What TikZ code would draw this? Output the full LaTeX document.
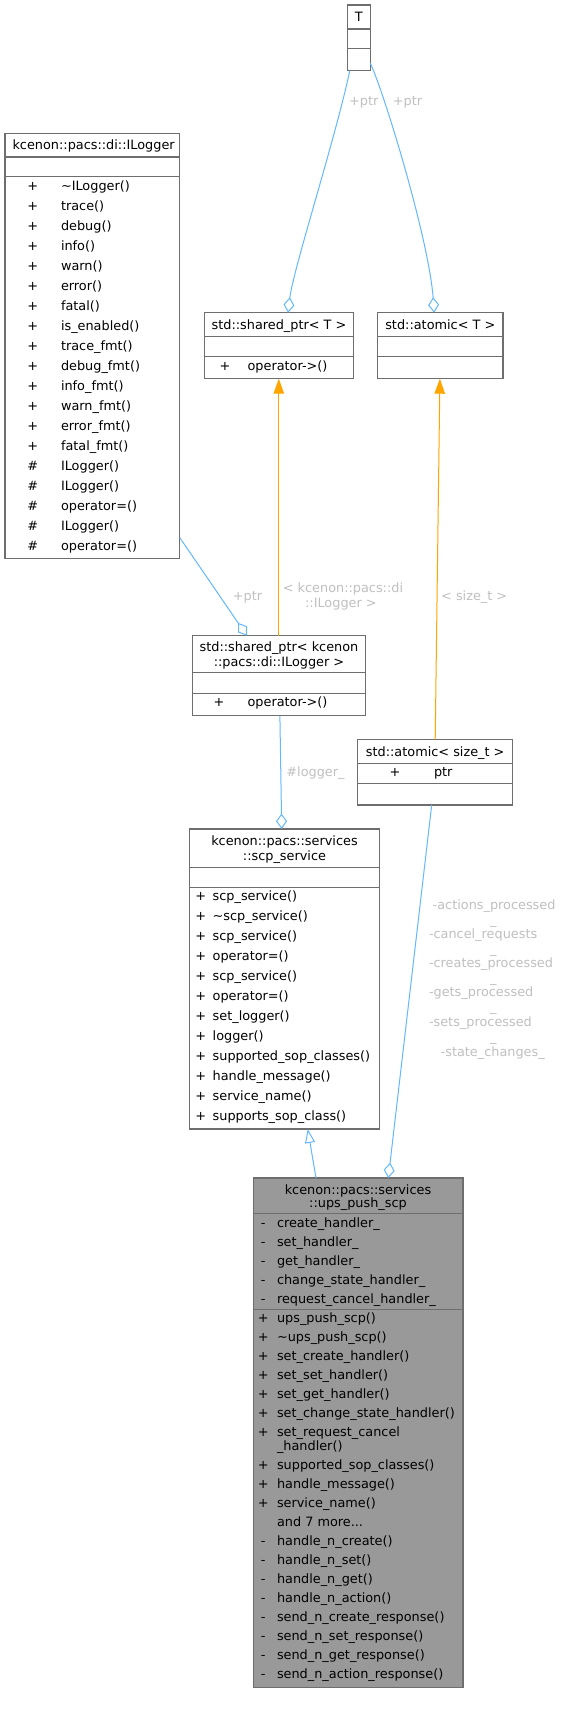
\documentclass[tikz,border=0pt]{standalone}
\usepackage{fontspec}
\setmainfont{DejaVu Sans}
\usetikzlibrary{arrows.meta,calc}
\definecolor{edgeblue}{HTML}{63B8FF}
\definecolor{edgeorange}{HTML}{FFA500}
\definecolor{lblgray}{HTML}{C0C0C0}
\definecolor{boxborder}{HTML}{6E6E6E}
\definecolor{mainfill}{HTML}{999999}
\newcommand\fsz{\fontsize{12.85}{15}\selectfont}
\newcommand\upsmore{and 7 more...}
\begin{document}
\begin{tikzpicture}[x=1pt,y=-1pt,
  cls/.style={draw=boxborder, line width=1.3pt, inner sep=0pt, outer sep=0pt, anchor=north west, fill=white},
  div/.style={draw=boxborder, line width=1.3pt},
  txt/.style={inner sep=0pt, outer sep=0pt, text height=9.3pt, text depth=0pt, font=\fsz},
  lbl/.style={txt, text=lblgray},
  agg/.style={draw=edgeblue, line width=1pt, -{Diamond[open,length=15.5pt,width=11pt]}},
  inst/.style={draw=edgeorange, line width=1pt, -{Triangle[length=15pt,width=10.5pt,fill=edgeorange]}},
  inh/.style={draw=edgeblue, line width=1pt, -{Triangle[open,length=14pt,width=10pt]}},
]
\useasboundingbox[fill=white] (0,0) rectangle (563,1719);

% ---- class boxes
\node[cls, minimum width=23pt, minimum height=65.7pt] (T) at (347.3,5) {};
\draw[div] ([yshift=-24pt]T.north west) -- ([yshift=-24pt]T.north east);
\draw[div] ([yshift=-43.7pt]T.north west) -- ([yshift=-43.7pt]T.north east);
\node[txt] (Tt) at (358.8,17.3) {T};

\node[cls, minimum width=174.8pt, minimum height=425.4pt] (IL) at (5,133.3) {};
\draw[div] ([yshift=-23.7pt]IL.north west) -- ([yshift=-23.7pt]IL.north east);
\draw[div] ([yshift=-43.4pt]IL.north west) -- ([yshift=-43.4pt]IL.north east);
\node[txt] (ILt) at (93.6,145.3) {kcenon::pacs::di::ILogger};
\foreach \sy/\nm [count=\i from 0] in {+/\textasciitilde ILogger(), +/trace(), +/debug(), +/info(), +/warn(), +/error(), +/fatal(), +/is\_enabled(), +/trace\_fmt(), +/debug\_fmt(), +/info\_fmt(), +/warn\_fmt(), +/error\_fmt(), +/fatal\_fmt(), \#/ILogger(), \#/ILogger(), \#/operator=(), \#/ILogger(), \#/operator=()}{
  \node[txt] (ILs\i) at (32.8,{185.8+20*\i}) {\sy};
  \node[txt, anchor=west] (ILn\i) at (61,{185.8+20*\i}) {\nm};
}

\node[cls, minimum width=149.6pt, minimum height=66pt] (SP) at (204.2,312.7) {};
\draw[div] ([yshift=-24pt]SP.north west) -- ([yshift=-24pt]SP.north east);
\draw[div] ([yshift=-44pt]SP.north west) -- ([yshift=-44pt]SP.north east);
\node[txt] (SPt) at (279,325) {std::shared\_ptr< T >};
\node[txt] (SPs) at (225,366) {+};
\node[txt, anchor=west] (SPn) at (247.6,366) {operator->()};

\node[cls, minimum width=125.6pt, minimum height=66pt] (AT) at (377.5,312.7) {};
\draw[div] ([yshift=-24pt]AT.north west) -- ([yshift=-24pt]AT.north east);
\draw[div] ([yshift=-44pt]AT.north west) -- ([yshift=-44pt]AT.north east);
\node[txt] (ATt) at (440.3,325) {std::atomic< T >};

\node[cls, minimum width=172.9pt, minimum height=80pt] (SPL) at (192.7,635.7) {};
\draw[div] ([yshift=-37pt]SPL.north west) -- ([yshift=-37pt]SPL.north east);
\draw[div] ([yshift=-57.6pt]SPL.north west) -- ([yshift=-57.6pt]SPL.north east);
\node[txt] (SPLt1) at (279,646.7) {std::shared\_ptr< kcenon};
\node[txt] (SPLt2) at (279,662) {::pacs::di::ILogger >};
\node[txt] (SPLs) at (218.9,702.3) {+};
\node[txt, anchor=west] (SPLn) at (247.6,702.3) {operator->()};

\node[cls, minimum width=155pt, minimum height=65.3pt] (ATS) at (357.7,739.7) {};
\draw[div] ([yshift=-23.6pt]ATS.north west) -- ([yshift=-23.6pt]ATS.north east);
\draw[div] ([yshift=-43.6pt]ATS.north west) -- ([yshift=-43.6pt]ATS.north east);
\node[txt] (ATSt) at (435.2,751.5) {std::atomic< size\_t >};
\node[txt] (ATSs) at (395,772.3) {+};
\node[txt, anchor=west] (ATSn) at (434,772.3) {ptr};

\node[cls, minimum width=189.6pt, minimum height=300pt] (SCP) at (189.7,829) {};
\draw[div] ([yshift=-38.3pt]SCP.north west) -- ([yshift=-38.3pt]SCP.north east);
\draw[div] ([yshift=-58.3pt]SCP.north west) -- ([yshift=-58.3pt]SCP.north east);
\node[txt] (SCPt1) at (284.5,841) {kcenon::pacs::services};
\node[txt] (SCPt2) at (284.5,856.3) {::scp\_service};
\foreach \nm [count=\i from 0] in {scp\_service(), \textasciitilde scp\_service(), scp\_service(), operator=(), scp\_service(), operator=(), set\_logger(), logger(), supported\_sop\_classes(), handle\_message(), service\_name(), supports\_sop\_class()}{
  \node[txt] (SCPs\i) at (200.7,{896+20*\i}) {+};
  \node[txt, anchor=west] (SCPn\i) at (212.7,{896+20*\i}) {\nm};
}

\node[cls, fill=mainfill, minimum width=209.7pt, minimum height=509.3pt] (UPS) at (253.3,1178) {};
\draw[div] ([yshift=-35.7pt]UPS.north west) -- ([yshift=-35.7pt]UPS.north east);
\draw[div] ([yshift=-131.7pt]UPS.north west) -- ([yshift=-131.7pt]UPS.north east);
\node[txt] (UPSt1) at (358,1190) {kcenon::pacs::services};
\node[txt] (UPSt2) at (358,1203.3) {::ups\_push\_scp};
\foreach \nm [count=\i from 0] in {create\_handler\_, set\_handler\_, get\_handler\_, change\_state\_handler\_, request\_cancel\_handler\_}{
  \node[txt] (UPAs\i) at (263.3,{1222.7+19*\i}) {-};
  \node[txt, anchor=west] (UPAn\i) at (277,{1222.7+19*\i}) {\nm};
}
\foreach \sy/\nm/\yy [count=\i from 0] in {+/ups\_push\_scp()/1317.7, +/\textasciitilde ups\_push\_scp()/1336.7, +/set\_create\_handler()/1355.7, +/set\_set\_handler()/1374.7, +/set\_get\_handler()/1393.7, +/set\_change\_state\_handler()/1412.7, +/set\_request\_cancel/1431.7, {}/\_handler()/1446, +/supported\_sop\_classes()/1465.3, +/handle\_message()/1484.3, +/service\_name()/1503.3, {}/\upsmore/1522.3, -/handle\_n\_create()/1541.3, -/handle\_n\_set()/1560.3, -/handle\_n\_get()/1579.3, -/handle\_n\_action()/1598.3, -/send\_n\_create\_response()/1617.3, -/send\_n\_set\_response()/1636.3, -/send\_n\_get\_response()/1655.3, -/send\_n\_action\_response()/1674.3}{
  \node[txt] (UPMs\i) at (263.3,\yy) {\sy};
  \node[txt, anchor=west] (UPMn\i) at (277,\yy) {\nm};
}

% ---- connectors
\draw[agg] ($(T.south west)+(2.5,0)$) .. controls (335,140) and (293,270) .. ($(SP.north west)+(83.9,0)$);
\node[lbl] (L1) at (363.7,100.7) {+ptr};
\draw[agg] ($(T.south east)+(0,-7.4)$) .. controls (384,92) and (429,240) .. ($(AT.north west)+(56.7,0)$);
\node[lbl] (L2) at (407.6,100.7) {+ptr};

\draw[inst] ($(SPL.north west)+(86.1,0)$) -- ($(SP.south west)+(74.6,0)$);
\node[lbl] (L3a) at (343,588.3) {< kcenon::pacs::di};
\node[lbl] (L3b) at (340.9,603.3) {::ILogger >};

\draw[inst] ($(ATS.north west)+(77.5,0)$) -- ($(AT.south west)+(62.4,0)$);
\node[lbl] (L4) at (474.2,596) {< size\_t >};

\draw[agg] ($(IL.south east)+(0,-21)$) -- ($(SPL.north west)+(54.2,0)$);
\node[lbl] (L5) at (247.6,596) {+ptr};

\draw[agg] ($(SPL.south west)+(87.2,0)$) -- ($(SCP.north west)+(92,0)$);
\node[lbl] (L6) at (315.5,771.7) {\#logger\_};

\draw[agg] ($(ATS.south west)+(74,0)$) -- ($(UPS.north west)+(135,0)$);
\node[lbl, anchor=west] (L7a) at (432.7,905) {-actions\_processed};
\node[lbl] (L7b) at (493.3,919.6) {\_};
\node[lbl, anchor=west] (L7c) at (429,934.3) {-cancel\_requests};
\node[lbl] (L7d) at (493.3,948.9) {\_};
\node[lbl, anchor=west] (L7e) at (429,963.3) {-creates\_processed};
\node[lbl] (L7f) at (493.3,977.8) {\_};
\node[lbl, anchor=west] (L7g) at (429,992.3) {-gets\_processed};
\node[lbl] (L7h) at (493.3,1007.3) {\_};
\node[lbl, anchor=west] (L7i) at (429,1022.3) {-sets\_processed};
\node[lbl] (L7j) at (493.3,1037) {\_};
\node[lbl, anchor=west] (L7k) at (440.7,1051.7) {-state\_changes\_};

\draw[inh] ($(UPS.north west)+(62.7,0)$) -- ($(SCP.south west)+(118,0)$);
\end{tikzpicture}
\end{document}
